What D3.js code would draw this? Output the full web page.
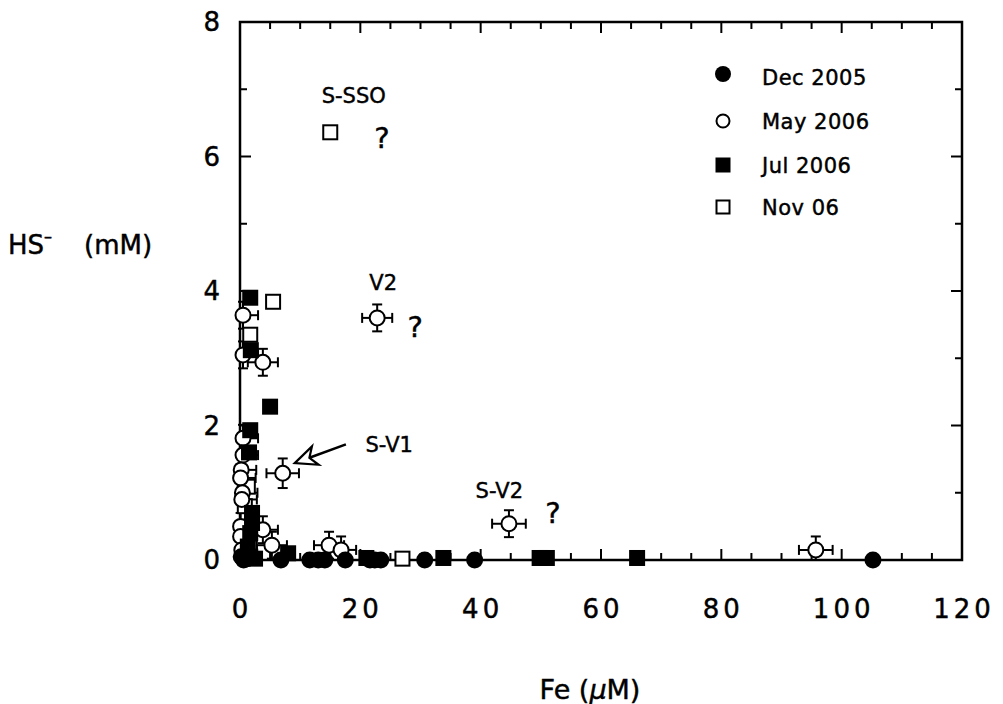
<!DOCTYPE html>
<html><head><meta charset="utf-8">
<script src="https://cdn.jsdelivr.net/npm/d3@7"></script>
<style>
body{margin:0;background:#fff;}
svg{display:block;}
text{font-family:"DejaVu Sans",sans-serif;fill:#000;stroke:#000;stroke-width:0.45px;}
</style></head>
<body><svg id="c" width="1003" height="704"></svg>
<script>
// ---- data ----
const xTicks = [0, 20, 40, 60, 80, 100, 120];
const yTicks = [0, 2, 4, 6, 8];
const seriesNames = ["Dec 2005", "May 2006", "Jul 2006", "Nov 06"];

const decFe = [0.2, 0.6, 1.2, 6.8, 11.6, 13.0, 14.1, 17.5, 21.6, 22.4, 23.4, 30.7, 39.0, 105.2];
const decHS = [0.05, 0.0, 0.02, 0.0, 0.0, 0.0, 0.0, 0.0, 0.0, 0.0, 0.0, 0.0, 0.0, 0.0];

const mayFe = [0.5, 0.5, 3.8, 0.5, 0.5, 0.2, 7.1, 0.1, 0.4, 0.3, 0.1, 0.1, 3.8, 5.3, 0.3, 14.8, 16.8, 22.8, 44.7, 95.7];
const mayHS = [3.64, 3.05, 2.94, 1.81, 1.56, 1.34, 1.29, 1.22, 1.0, 0.9, 0.5, 0.35, 0.45, 0.22, 0.15, 0.22, 0.15, 3.6, 0.54, 0.15];
const mayFeErr = [2.5, 2.5, 2.5, 2.5, 2.5, 2.5, 2.7, 2.5, 2.5, 2.5, 2.5, 2.5, 2.5, 2.5, 2.5, 2.5, 2.5, 2.5, 2.8, 2.8];
const mayHSErr = [0.2, 0.2, 0.2, 0.2, 0.2, 0.2, 0.22, 0.2, 0.2, 0.2, 0.2, 0.2, 0.2, 0.2, 0.2, 0.2, 0.2, 0.2, 0.2, 0.2];

const julFe = [1.7, 1.8, 5.0, 1.7, 1.5, 2.0, 2.0, 1.7, 1.3, 1.7, 8.0, 2.5, 21.0, 33.8, 49.8, 51.0, 66.0];
const julHS = [3.9, 3.12, 2.28, 1.93, 1.6, 0.7, 0.55, 0.4, 0.2, 0.05, 0.1, 0.02, 0.03, 0.03, 0.03, 0.03, 0.03];

const novFe = [15.0, 5.5, 1.7, 1.3, 0.8, 27.0];
const novHS = [6.36, 3.84, 3.35, 1.09, 0.8, 0.02];

const labels = [
  {text: "S-SSO", fe: 18.9, hs: 6.79},
  {text: "V2", fe: 23.8, hs: 4.01},
  {text: "S-V1", fe: 24.8, hs: 1.6},
  {text: "S-V2", fe: 43.1, hs: 0.92}
];
const questions = [
  {fe: 23.6, hs: 6.13},
  {fe: 29.1, hs: 3.32},
  {fe: 52.0, hs: 0.55}
];
const arrowFrom = {fe: 17.6, hs: 1.72};
const arrowTo = {fe: 9.1, hs: 1.44};

// ---- layout ----
const svg = d3.select("#c");
const L = 240, R = 962, T = 22, B = 560;
const x = d3.scaleLinear().domain([0, 120]).range([L, R]);
const y = d3.scaleLinear().domain([0, 8]).range([B, T]);

const g = svg.append("g");

// frame
g.append("rect").attr("x", L).attr("y", T).attr("width", R - L).attr("height", B - T)
  .attr("fill", "none").attr("stroke", "#000").attr("stroke-width", 2.5);

// ticks (inward, mirrored)
const xMinor = d3.range(0, 121, 5);
const yMinor = d3.range(0, 9, 1);
xMinor.forEach(v => {
  const major = v % 20 === 0;
  const len = major ? 11 : 7;
  if (v === 0 || v === 120) return;
  g.append("line").attr("x1", x(v)).attr("x2", x(v)).attr("y1", B).attr("y2", B - len).attr("stroke", "#000").attr("stroke-width", 2);
  g.append("line").attr("x1", x(v)).attr("x2", x(v)).attr("y1", T).attr("y2", T + len).attr("stroke", "#000").attr("stroke-width", 2);
});
yMinor.forEach(v => {
  const major = v % 2 === 0;
  const len = major ? 11 : 7;
  if (v === 0 || v === 8) return;
  g.append("line").attr("x1", L).attr("x2", L + len).attr("y1", y(v)).attr("y2", y(v)).attr("stroke", "#000").attr("stroke-width", 2);
  g.append("line").attr("x1", R).attr("x2", R - len).attr("y1", y(v)).attr("y2", y(v)).attr("stroke", "#000").attr("stroke-width", 2);
});

// tick labels
g.selectAll(".xt").data(xTicks).join("text")
  .attr("x", d => x(d) + 2).attr("y", 618)
  .attr("text-anchor", "middle").attr("font-size", 26).attr("letter-spacing", 4)
  .text(d => d);
g.selectAll(".yt").data(yTicks).join("text")
  .attr("x", 220).attr("y", d => y(d) + 9)
  .attr("text-anchor", "end").attr("font-size", 26)
  .text(d => d);

// axis titles
const yt = g.append("text").attr("x", 8).attr("y", 254).attr("font-size", 26);
yt.append("tspan").text("HS");
yt.append("tspan").attr("dy", -12).attr("font-size", 16).text("\u2013");
yt.append("tspan").attr("x", 84).attr("dy", 12).text("(mM)");

const xt = g.append("text").attr("x", 590).attr("y", 699).attr("text-anchor", "middle").attr("font-size", 27);
xt.append("tspan").text("Fe (");
xt.append("tspan").attr("font-style", "italic").text("\u03bc");
xt.append("tspan").text("M)");

// ---- marks ----
const dec = decFe.map((v, i) => ({fe: v, hs: decHS[i]}));
const may = mayFe.map((v, i) => ({fe: v, hs: mayHS[i], ex: mayFeErr[i], ey: mayHSErr[i]}));
const jul = julFe.map((v, i) => ({fe: v, hs: julHS[i]}));
const nov = novFe.map((v, i) => ({fe: v, hs: novHS[i]}));

const marks = g.append("g");

// error bars for May 2006
const eb = marks.append("g").attr("stroke", "#000").attr("stroke-width", 2);
const cap = 5;
may.forEach(d => {
  const cx = x(d.fe), cy = y(d.hs);
  const xl = x(Math.max(0, d.fe - d.ex)), xr = x(d.fe + d.ex);
  const yt2 = y(d.hs + d.ey), yb = y(Math.max(0, d.hs - d.ey));
  eb.append("line").attr("x1", xl).attr("x2", xr).attr("y1", cy).attr("y2", cy);
  eb.append("line").attr("x1", cx).attr("x2", cx).attr("y1", yt2).attr("y2", yb);
  if (d.fe - d.ex > 0) eb.append("line").attr("x1", xl).attr("x2", xl).attr("y1", cy - cap).attr("y2", cy + cap);
  eb.append("line").attr("x1", xr).attr("x2", xr).attr("y1", cy - cap).attr("y2", cy + cap);
  eb.append("line").attr("x1", cx - cap).attr("x2", cx + cap).attr("y1", yt2).attr("y2", yt2);
  if (d.hs - d.ey > 0) eb.append("line").attr("x1", cx - cap).attr("x2", cx + cap).attr("y1", yb).attr("y2", yb);
});

// Nov 06 open squares
marks.selectAll(".nov").data(nov).join("rect")
  .attr("x", d => x(d.fe) - 7).attr("y", d => y(d.hs) - 7).attr("width", 14).attr("height", 14)
  .attr("fill", "#fff").attr("stroke", "#000").attr("stroke-width", 2);
// May 2006 open circles
marks.selectAll(".may").data(may).join("circle")
  .attr("cx", d => x(d.fe)).attr("cy", d => y(d.hs)).attr("r", 7.5)
  .attr("fill", "#fff").attr("stroke", "#000").attr("stroke-width", 2);
// Jul 2006 filled squares
marks.selectAll(".jul").data(jul).join("rect")
  .attr("x", d => x(d.fe) - 8).attr("y", d => y(d.hs) - 8).attr("width", 16).attr("height", 16)
  .attr("fill", "#000");
// Dec 2005 filled circles
marks.selectAll(".dec").data(dec).join("circle")
  .attr("cx", d => x(d.fe)).attr("cy", d => y(d.hs)).attr("r", 8.5)
  .attr("fill", "#000");

// ---- annotations ----
labels.forEach(l => {
  g.append("text").attr("x", x(l.fe)).attr("y", y(l.hs)).attr("text-anchor", "middle")
    .attr("font-size", 21).text(l.text);
});
questions.forEach(q => {
  g.append("text").attr("x", x(q.fe)).attr("y", y(q.hs)).attr("text-anchor", "middle")
    .attr("font-size", 29).text("?");
});
// arrow with open head
{
  const x1 = x(arrowFrom.fe), y1 = y(arrowFrom.hs), x2 = x(arrowTo.fe), y2 = y(arrowTo.hs);
  const ang = Math.atan2(y2 - y1, x2 - x1);
  const hl = 24, hw = 0.42;
  const w1 = [x2 - hl * Math.cos(ang - hw), y2 - hl * Math.sin(ang - hw)];
  const w2 = [x2 - hl * Math.cos(ang + hw), y2 - hl * Math.sin(ang + hw)];
  const notch = [x2 - 0.65 * hl * Math.cos(ang), y2 - 0.65 * hl * Math.sin(ang)];
  g.append("line").attr("x1", x1).attr("y1", y1).attr("x2", notch[0]).attr("y2", notch[1])
    .attr("stroke", "#000").attr("stroke-width", 2.5);
  g.append("path").attr("d", `M${x2},${y2}L${w1[0]},${w1[1]}L${notch[0]},${notch[1]}L${w2[0]},${w2[1]}Z`)
    .attr("fill", "#fff").attr("stroke", "#000").attr("stroke-width", 2.2).attr("stroke-linejoin", "miter");
}

// ---- legend ----
const lg = g.append("g");
const legY = [74, 121, 165, 207];
seriesNames.forEach((s, i) => {
  const cy = legY[i], cx = 723;
  if (i === 0) lg.append("circle").attr("cx", cx).attr("cy", cy).attr("r", 8).attr("fill", "#000");
  if (i === 1) lg.append("circle").attr("cx", cx).attr("cy", cy).attr("r", 6.5).attr("fill", "#fff").attr("stroke", "#000").attr("stroke-width", 2);
  if (i === 2) lg.append("rect").attr("x", cx - 7.5).attr("y", cy - 7.5).attr("width", 15).attr("height", 15).attr("fill", "#000");
  if (i === 3) lg.append("rect").attr("x", cx - 6.5).attr("y", cy - 6.5).attr("width", 13).attr("height", 13).attr("fill", "#fff").attr("stroke", "#000").attr("stroke-width", 2);
  lg.append("text").attr("x", 762).attr("y", cy + 8 + (i === 0 ? 3 : 0)).attr("font-size", 21).attr("letter-spacing", 0.5).text(s);
});
</script></body></html>
